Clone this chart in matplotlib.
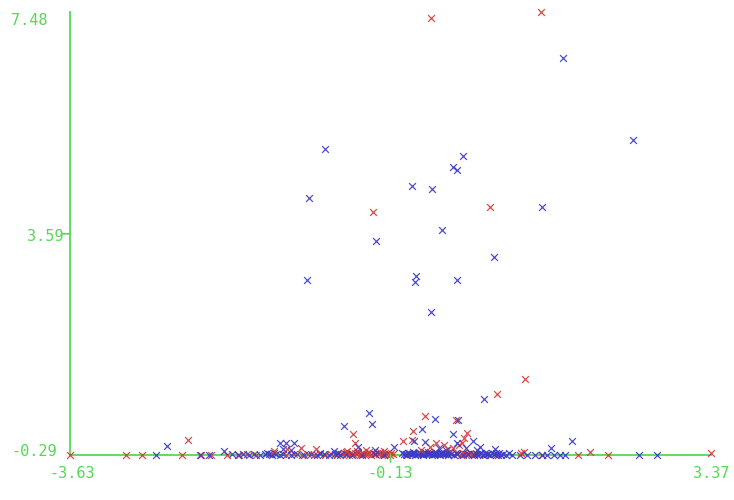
import matplotlib
matplotlib.use("Agg")
import matplotlib.pyplot as plt

# Class "blue" instances: spread-out points above the floor
blue_high_x = [-0.84, -1.02, -1.04, -0.29, 0.11, 0.32, 0.55, 0.60, 0.66, 0.43,
               0.15, 0.14, 0.60, 0.31, 1.00, 1.52, 1.75, 2.52]
blue_high_y = [5.08, 4.22, 2.78, 3.47, 4.43, 4.38, 4.77, 4.71, 4.96, 3.66,
               2.85, 2.75, 2.78, 2.22, 3.19, 4.06, 6.68, 5.24]

# Class "blue": points just above the floor
blue_mid_x = [0.89, -0.36, -0.33, -0.64, 0.36, 0.61, 0.21, 0.55, -2.57, -1.95,
              -1.34, -1.27, -1.18, -0.75, -0.48, -0.09, 0.13, 0.25, 0.60, 0.77,
              0.69, 0.81, 0.85, 1.01, 1.62, 1.85, -1.30, -1.22, -0.30, 0.40,
              0.48]
blue_mid_y = [0.69, 0.45, 0.25, 0.22, 0.34, 0.32, 0.17, 0.08, -0.13, -0.22,
              -0.08, -0.08, -0.08, -0.22, -0.15, -0.15, -0.04, -0.06, -0.08, -0.04,
              -0.17, -0.20, -0.15, -0.18, -0.17, -0.04, -0.18, -0.20, -0.20, -0.16,
              -0.20]

# Class "blue": points on the floor
blue_low_x = [-2.69, -2.21, -2.11, -1.86, -1.80, -1.74, -1.68, -1.62, -1.55, -1.50,
              -1.46, -1.42, -1.38, -1.34, -1.30, -1.22, -1.15, -1.07, -1.00, -0.93,
              -0.86, -0.80, -0.74, -0.68, -0.62, -0.55, -0.44, -0.30, -0.20, 0.02,
              0.05, 0.08, 0.11, 0.14, 0.17, 0.20, 0.23, 0.26, 0.29, 0.32,
              0.35, 0.38, 0.41, 0.44, 0.47, 0.50, 0.53, 0.56, 0.60, 0.66,
              0.72, 0.78, 0.84, 0.88, 0.92, 0.96, 1.00, 1.04, 1.08, 1.13,
              1.20, 1.28, 1.36, 1.45, 1.52, 1.58, 1.66, 1.72, 1.78, 2.58,
              2.78, 0.06, 0.12, 0.18, 0.24, 0.30, 0.36, 0.42, 0.52, 0.58,
              0.90, 0.98, 1.06, -1.48, -1.40, -0.90, -0.70, 0.00, 0.04, 0.07,
              0.10, 0.13, 0.16, 0.19, 0.22, 0.25, 0.28, 0.31, 0.34, 0.37,
              0.40, 0.43, 0.46, 0.49, 0.82, 0.86, 0.94, 1.02, 1.10, 1.16]
blue_low_y = [-0.29, -0.29, -0.29, -0.28, -0.29, -0.28, -0.29, -0.28, -0.29, -0.27,
              -0.28, -0.29, -0.28, -0.29, -0.27, -0.29, -0.28, -0.29, -0.28, -0.29,
              -0.28, -0.29, -0.28, -0.29, -0.28, -0.29, -0.29, -0.28, -0.29, -0.28,
              -0.29, -0.27, -0.28, -0.29, -0.27, -0.28, -0.29, -0.27, -0.28, -0.29,
              -0.27, -0.28, -0.29, -0.28, -0.27, -0.29, -0.28, -0.29, -0.28, -0.29,
              -0.28, -0.29, -0.28, -0.29, -0.28, -0.29, -0.28, -0.29, -0.29, -0.29,
              -0.29, -0.29, -0.29, -0.29, -0.29, -0.29, -0.29, -0.29, -0.29, -0.29,
              -0.29, -0.25, -0.24, -0.25, -0.24, -0.25, -0.24, -0.25, -0.24, -0.25,
              -0.25, -0.25, -0.25, -0.25, -0.25, -0.26, -0.26, -0.26, -0.27, -0.26,
              -0.27, -0.26, -0.27, -0.26, -0.27, -0.26, -0.27, -0.26, -0.27, -0.26,
              -0.27, -0.26, -0.27, -0.26, -0.27, -0.26, -0.27, -0.26, -0.27, -0.26]

# Class "red" instances: spread-out points above the floor
red_high_x = [0.31, 1.51, -0.32, 0.96, 1.34, 1.03]
red_high_y = [7.38, 7.48, 3.98, 4.06, 1.04, 0.78]

# Class "red": points just above the floor
red_mid_x = [0.25, 0.58, 0.12, 0.70, -0.535, 0.67, -2.34, 0.01, 0.11, -0.52,
             0.37, 0.65, -1.40, -1.26, -1.11, -0.94, -0.50, 1.30, 2.05, 0.45,
             0.50, 0.30, 0.20, -0.60, -0.40, -0.20, 0.55, 0.62]
red_mid_y = [0.40, 0.32, 0.13, 0.10, 0.08, 0.01, -0.03, -0.04, -0.03, -0.08,
             -0.08, -0.08, -0.22, -0.18, -0.17, -0.18, -0.22, -0.25, -0.24, -0.12,
             -0.18, -0.15, -0.20, -0.22, -0.20, -0.22, -0.16, -0.12]

# Class "red": points on the floor
red_low_x = [-3.63, -3.02, -2.84, -2.41, -2.20, -2.09, -1.92, -1.78, -1.70, -1.60,
             -1.44, -1.27, -1.18, -1.10, -1.03, -0.96, -0.90, -0.84, -0.78, -0.71,
             -0.66, -0.58, -0.54, -0.50, -0.46, -0.42, -0.38, -0.34, -0.30, -0.26,
             -0.22, -0.18, -0.14, -0.10, 0.04, 0.22, 0.36, 0.50, 0.64, 0.68,
             0.72, 0.76, 0.80, 0.90, 1.02, 1.33, 1.52, 1.92, 2.24, 3.37,
             -0.70, -0.62, -0.56, -0.48, -0.44, -0.36, -0.28, -0.24, -0.16, 0.28,
             0.42, -0.64, -0.60, -0.52, -0.40, -0.32, -0.20, -0.12, 0.60, 0.66,
             0.70, 0.74, 0.78]
red_low_y = [-0.29, -0.29, -0.29, -0.29, -0.29, -0.29, -0.29, -0.29, -0.28, -0.29,
             -0.28, -0.29, -0.28, -0.29, -0.28, -0.29, -0.28, -0.29, -0.28, -0.29,
             -0.28, -0.29, -0.27, -0.28, -0.29, -0.27, -0.28, -0.29, -0.27, -0.28,
             -0.29, -0.28, -0.29, -0.28, -0.29, -0.28, -0.27, -0.28, -0.29, -0.27,
             -0.28, -0.29, -0.28, -0.29, -0.29, -0.24, -0.29, -0.29, -0.29, -0.25,
             -0.25, -0.24, -0.25, -0.24, -0.25, -0.24, -0.25, -0.24, -0.25, -0.24,
             -0.25, -0.26, -0.27, -0.26, -0.27, -0.26, -0.27, -0.26, -0.27, -0.26,
             -0.27, -0.26, -0.27]

x_ticks = [-3.63, -0.13, 3.37]
y_ticks = [-0.29, 3.59, 7.48]
x_tick_labels = ["-3.63", "-0.13", "3.37"]
y_tick_labels = ["-0.29", "3.59", "7.48"]

axis_green = "#55d855"
red_color = "#d23a3a"
blue_color = "#3a3ac8"

fig = plt.figure(figsize=(7.34, 5.0), dpi=100)
ax = fig.add_axes([70 / 734, 45 / 500, 641 / 734, 443 / 500])
ax.set_xlim(x_ticks[0], x_ticks[-1])
ax.set_ylim(y_ticks[0], y_ticks[-1])

marker_kw = dict(marker="x", s=24, linewidths=0.9, alpha=0.9,
                 clip_on=False, zorder=3)
ax.scatter(red_low_x, red_low_y, color=red_color, **marker_kw)
ax.scatter(blue_low_x, blue_low_y, color=blue_color, **marker_kw)
ax.scatter(red_mid_x, red_mid_y, color=red_color, **marker_kw)
ax.scatter(blue_mid_x, blue_mid_y, color=blue_color, **marker_kw)
ax.scatter(red_high_x, red_high_y, color=red_color, **marker_kw)
ax.scatter(blue_high_x, blue_high_y, color=blue_color, **marker_kw)

for side in ("top", "right"):
    ax.spines[side].set_visible(False)
for side in ("left", "bottom"):
    ax.spines[side].set_color(axis_green)
    ax.spines[side].set_linewidth(1.3)

ax.set_xticks([])
ax.set_yticks([])

# short tick marks at the middle values only
ax.annotate("", xy=(x_ticks[1], 0), xycoords=("data", "axes fraction"),
            xytext=(0, -7), textcoords="offset pixels",
            arrowprops=dict(arrowstyle="-", color=axis_green, lw=1.2,
                            shrinkA=0, shrinkB=0))
ax.annotate("", xy=(0, y_ticks[1]), xycoords=("axes fraction", "data"),
            xytext=(-8, 0), textcoords="offset pixels",
            arrowprops=dict(arrowstyle="-", color=axis_green, lw=1.2,
                            shrinkA=0, shrinkB=0))

label_font = dict(family="DejaVu Sans Mono", fontsize=11, color=axis_green)

x_offsets = [(2, -18), (0, -18), (0, -18)]
for val, lab, (dx, dy) in zip(x_ticks, x_tick_labels, x_offsets):
    ax.annotate(lab, xy=(val, 0), xycoords=("data", "axes fraction"),
                xytext=(dx, dy), textcoords="offset pixels",
                ha="center", va="center", annotation_clip=False, **label_font)

y_offsets = [(-36, 4), (-25, -3), (-41, -9)]
for val, lab, (dx, dy) in zip(y_ticks, y_tick_labels, y_offsets):
    ax.annotate(lab, xy=(0, val), xycoords=("axes fraction", "data"),
                xytext=(dx, dy), textcoords="offset pixels",
                ha="center", va="center", annotation_clip=False, **label_font)

fig.savefig("out.png", dpi=100)
